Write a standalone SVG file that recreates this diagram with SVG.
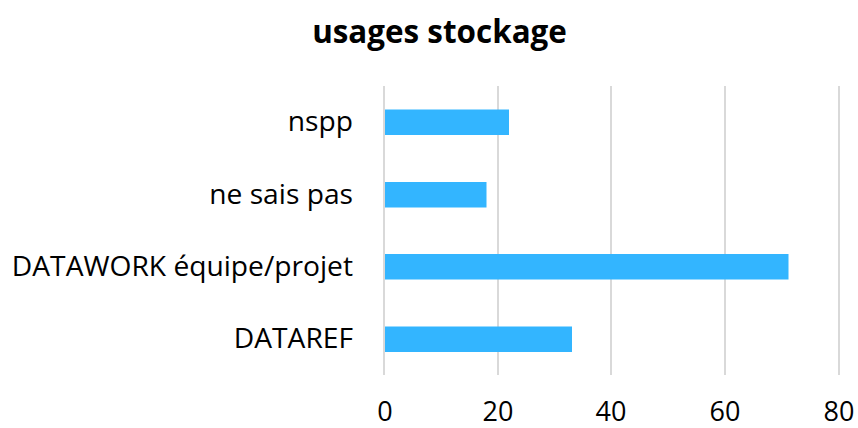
<svg xmlns="http://www.w3.org/2000/svg" width="858" height="428" viewBox="0 0 858 428">
<style>
.t{font-family:"Open Sans","Liberation Sans",sans-serif;fill:#000}
.lab{font-size:28.2px;text-anchor:end}
.tick{font-size:27px;text-anchor:middle}
.title{font-size:31.4px;font-weight:bold;text-anchor:middle}
.grid{stroke:#D9D9D9;stroke-width:2}
.bar{fill:#33B5FF}
</style>
<rect width="858" height="428" fill="#fff"/>
<g id="title"><text class="t title" x="439.5" y="43">usages stockage</text></g>
<g id="grid">
<line class="grid" x1="384" y1="86" x2="384" y2="375"/>
<line class="grid" x1="498" y1="86" x2="498" y2="375"/>
<line class="grid" x1="611" y1="86" x2="611" y2="375"/>
<line class="grid" x1="725" y1="86" x2="725" y2="375"/>
<line class="grid" x1="839" y1="86" x2="839" y2="375"/>
</g>
<g id="bars">
<rect class="bar" x="385" y="109.5" width="124" height="25.5"/>
<rect class="bar" x="385" y="182" width="101.5" height="25.5"/>
<rect class="bar" x="385" y="254" width="403.5" height="25.5"/>
<rect class="bar" x="385" y="326.5" width="187" height="25.5"/>
</g>
<g id="labels">
<text class="t lab" x="353" y="131">nspp</text>
<text class="t lab" x="353" y="203.5">ne sais pas</text>
<text class="t lab" x="353" y="276">DATAWORK équipe/projet</text>
<text class="t lab" x="353" y="348">DATAREF</text>
</g>
<g id="ticks">
<text class="t tick" x="385" y="421">0</text>
<text class="t tick" x="498" y="421">20</text>
<text class="t tick" x="611" y="421">40</text>
<text class="t tick" x="725" y="421">60</text>
<text class="t tick" x="839" y="421">80</text>
</g>
</svg>
